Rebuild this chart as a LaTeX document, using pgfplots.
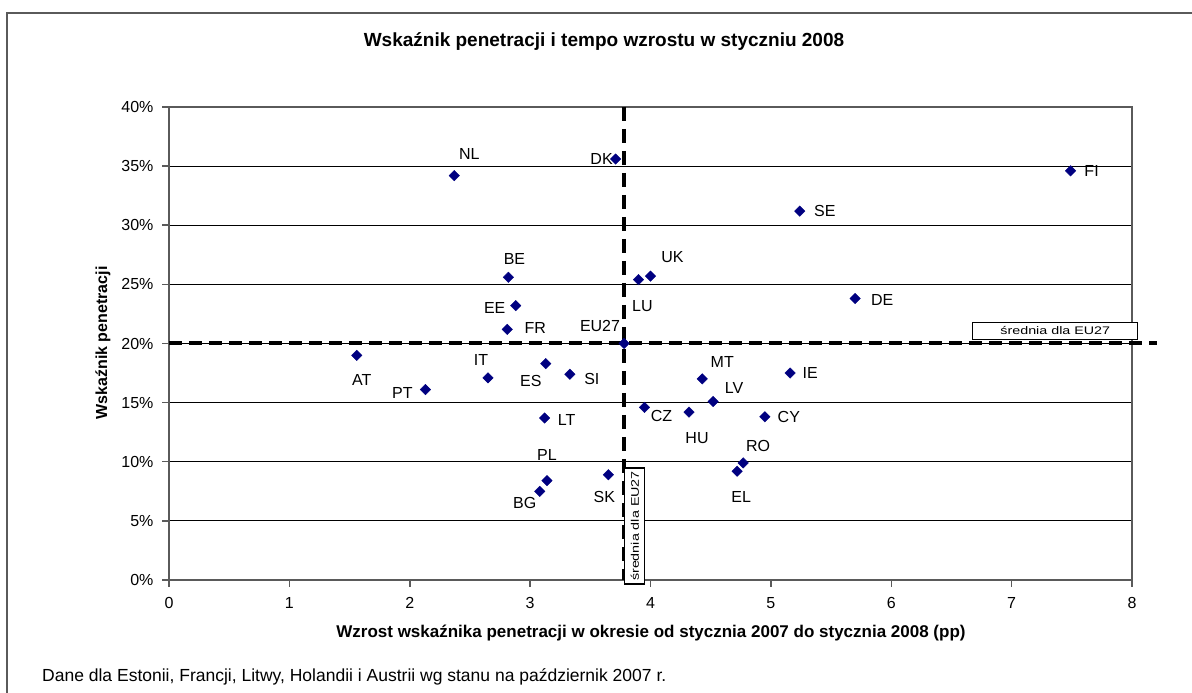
\documentclass[border=0pt]{standalone}
\usepackage{fontspec}
\setmainfont{Liberation Sans}
\usepackage{graphicx}
\usepackage{pgfplots}
\usepackage{pgfplotstable}
\pgfplotsset{compat=1.18}

\definecolor{markblue}{RGB}{0,0,128}
\definecolor{framegray}{RGB}{90,90,90}

% lbl, growth (pp), penetration (%), label offset in px (dx, dy)
\pgfplotstableread{
lbl  x    y    dx  dy
NL   2.37 34.2  15  22
DK   3.71 35.6 -14   0
FI   7.49 34.6  21   0
SE   5.24 31.2  25   0
UK   4.00 25.7  22  19
LU   3.90 25.4   4 -26
BE   2.82 25.6   6  18
EE   2.88 23.2 -21  -2
DE   5.70 23.8  27  -1
FR   2.81 21.2  28   1
EU27 3.78 20.0 -24  18
AT   1.56 19.0   5 -25
IT   2.65 17.1  -7  18
ES   3.13 18.3 -15 -17
SI   3.33 17.4  22  -5
PT   2.13 16.1 -23  -3
LT   3.12 13.7  22  -2
PL   3.14 8.4    0  26
BG   3.08 7.5  -15 -12
SK   3.65 8.9   -4 -22
CZ   3.95 14.6  17  -9
HU   4.32 14.2   8 -26
CY   4.95 13.8  24   0
RO   4.77 9.9   15  17
EL   4.72 9.2    4 -26
MT   4.43 17.0  20  17
IE   5.16 17.5  20   0
LV   4.52 15.1  21  13
}\countries

\newcommand{\eubox}{\scalebox{1.3}[1]{\fontsize{11}{11}\selectfont średnia dla EU27}}

\begin{document}
\begin{tikzpicture}[x=1pt,y=1pt]
\useasboundingbox (0,0) rectangle (1192,693);
\draw[framegray, line width=2pt] (7,0) -- (7,680) -- (1192,680);

\begin{axis}[
  at={(169pt,113pt)}, anchor=south west,
  width=963pt, height=473pt, scale only axis,
  xmin=0, xmax=8, ymin=0, ymax=40,
  xtick={0,1,...,8}, ytick={0,5,...,40},
  xtick pos=bottom, ytick pos=left,
  tick align=outside, major tick length=7pt,
  ymajorgrids,
  major grid style={black, line width=1.2pt},
  axis line style={framegray, line width=1.8pt},
  tick style={framegray, line width=1.5pt},
  /pgf/number format/assume math mode=true,
  ticklabel style={font=\fontsize{16}{16}\selectfont, text=black},
  xticklabel style={yshift=-7pt},
  yticklabel style={xshift=-5pt},
  yticklabel={\pgfmathprintnumber{\tick}\%},
  clip=false,
]
\addplot[black, line width=4pt, dash pattern=on 13pt off 7pt] coordinates {(0,20) (8.21,20)};
\addplot[black, line width=4pt, dash pattern=on 14pt off 8pt] coordinates {(3.78,40) (3.78,0)};

\node[draw=black, fill=white, line width=1.2pt, minimum width=165pt, minimum height=17pt, inner sep=0pt]
  at (axis cs:7.363,21.09) {\eubox};
\node[draw=black, fill=white, line width=1.2pt, rotate=90, minimum width=116pt, minimum height=20pt, inner sep=0pt]
  at (axis cs:3.870,4.565) {\eubox};

\addplot[
  only marks, color=markblue,
  mark=square*, mark size=3.7pt,
  mark options={rotate=45, fill=markblue, draw=markblue},
  point meta=explicit symbolic,
  visualization depends on={\thisrow{dx} \as \dx},
  visualization depends on={\thisrow{dy} \as \dy},
  nodes near coords,
  nodes near coords style={anchor=center, inner sep=0pt, text=black,
    font=\fontsize{16}{16}\selectfont, xshift=\dx pt, yshift=\dy pt},
] table[x=x, y=y, meta=lbl] {\countries};
\end{axis}

\node[font=\bfseries\fontsize{19}{19}\selectfont] at (604,651)
  {Wskaźnik penetracji i tempo wzrostu w styczniu 2008};
\node[font=\bfseries\fontsize{16}{16}\selectfont, rotate=90] at (103,350)
  {Wskaźnik penetracji};
\node[font=\bfseries\fontsize{17}{17}\selectfont] at (651,60)
  {Wzrost wskaźnika penetracji w okresie od stycznia 2007 do stycznia 2008 (pp)};
\node[font=\fontsize{17.5}{17.5}\selectfont, anchor=west, inner sep=0pt] at (42,16)
  {Dane dla Estonii, Francji, Litwy, Holandii i Austrii wg stanu na październik 2007 r.};
\end{tikzpicture}
\end{document}
